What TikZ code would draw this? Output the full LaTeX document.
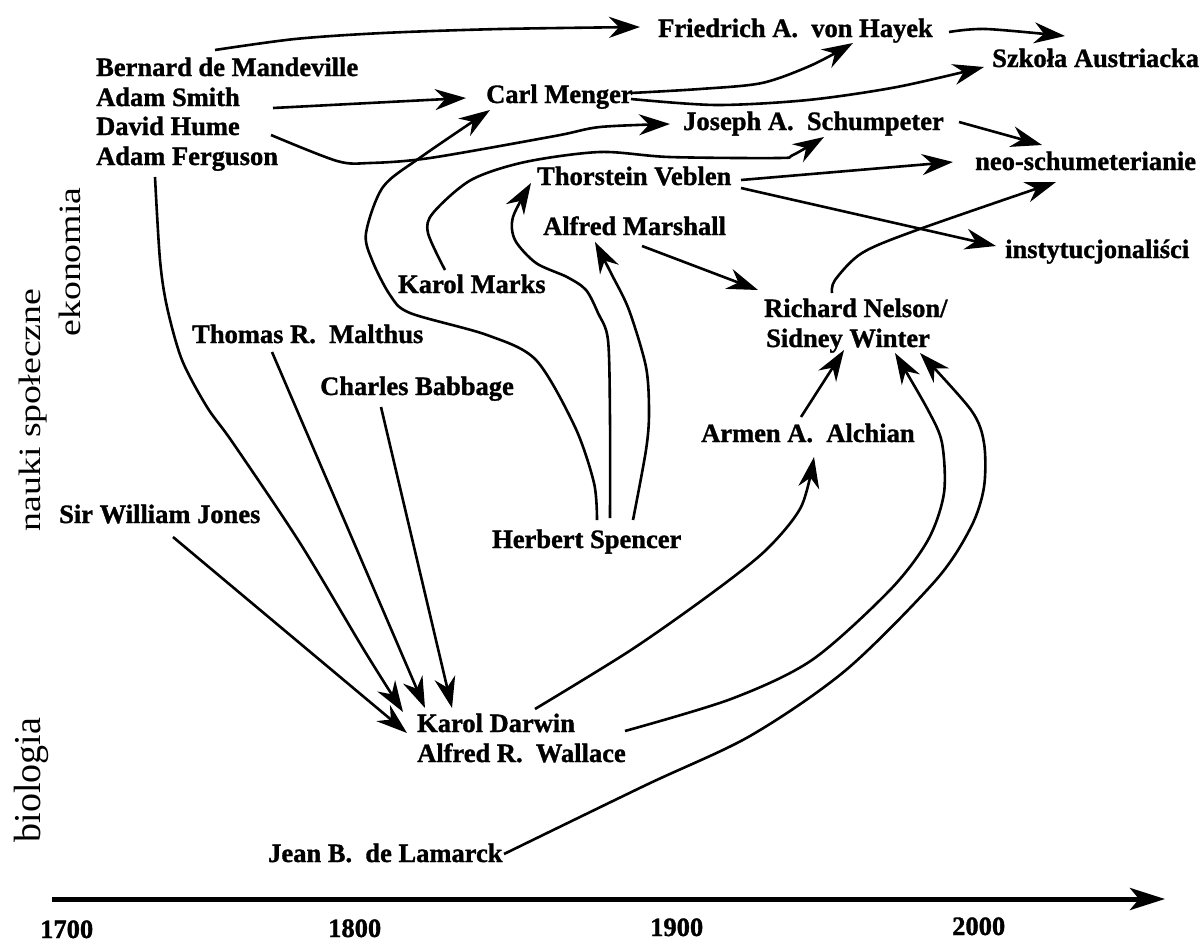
\documentclass[tikz,border=0pt]{standalone}
\usepackage{fontspec}
\setmainfont{Liberation Serif}
\newfontfamily\namefont[FakeBold=1.2]{Liberation Serif Bold}
\usetikzlibrary{arrows.meta}
\tikzset{
  nm/.style={inner sep=0pt, anchor=base west, font=\namefont\fontsize{26.5}{30}\selectfont},
  yr/.style={inner sep=0pt, anchor=base west, font=\namefont\fontsize{26.5}{30}\selectfont},
  side/.style={inner sep=0pt, rotate=90},
  arr/.style={line width=2.6pt, -{Stealth[length=31pt,width=21pt,inset=10pt]}},
  axis/.style={line width=5pt, -{Stealth[length=35pt,width=22pt,inset=9pt]}},
}
\begin{document}
\begin{tikzpicture}[x=1pt,y=-1pt]
\useasboundingbox (0,0) rectangle (1202,945);
% side labels
\node[side] (nauki) at (33,410) {\fontsize{31}{32}\selectfont\scalebox{1.22}[1]{nauki społeczne}};
\node[side] (ekon) at (70,262) {\fontsize{31}{32}\selectfont\scalebox{1.22}[1]{ekonomia}};
\node[side] (bio) at (31,780) {\fontsize{38}{40}\selectfont biologia};
% names
\node[nm] (mand) at (96,76) {Bernard de Mandeville};
\node[nm] (smith) at (96,106) {Adam Smith};
\node[nm] (hume) at (96,135) {David Hume};
\node[nm] (ferg) at (96,165) {Adam Ferguson};
\node[nm] (hayek) at (658,37) {Friedrich A.\ \ von Hayek};
\node[nm] (menger) at (486,103) {Carl Menger};
\node[nm] (szkola) at (992,67) {Szkoła Austriacka};
\node[nm] (schump) at (683,130) {Joseph A.\ \ Schumpeter};
\node[nm] (neo) at (975,170) {neo-schumeterianie};
\node[nm] (veblen) at (537,185) {Thorstein Veblen};
\node[nm] (marshall) at (543,235) {Alfred Marshall};
\node[nm] (inst) at (1005,258) {instytucjonaliści};
\node[nm] (marks) at (398,293) {Karol Marks};
\node[nm] (nelson) at (764,317) {Richard Nelson/};
\node[nm] (winter) at (766,347) {Sidney Winter};
\node[nm] (malthus) at (192,343) {Thomas R.\ \ Malthus};
\node[nm] (babbage) at (320,395) {Charles Babbage};
\node[nm] (alchian) at (701,442) {Armen A.\ \ Alchian};
\node[nm] (jones) at (59,523) {Sir William Jones};
\node[nm] (spencer) at (492,548) {Herbert Spencer};
\node[nm] (darwin) at (417,732) {Karol Darwin};
\node[nm] (wallace) at (417,762) {Alfred R.\ \ Wallace};
\node[nm] (lamarck) at (268,862) {Jean B.\ \ de Lamarck};
% years
\node[yr] (y1700) at (40,938) {1700};
\node[yr] (y1800) at (328,937) {1800};
\node[yr] (y1900) at (650,936) {1900};
\node[yr] (y2000) at (952,935) {2000};
% axis
\coordinate (ax0) at (52,899);
\coordinate (ax1) at (1165,899);
\draw[axis] (ax0) -- (ax1);
% connector end points
\coordinate (mand-o) at (215,50);   \coordinate (hayek-i) at (640,27);
\coordinate (smith-o) at (273,108); \coordinate (menger-i) at (466,98);
\coordinate (hume-o) at (271,135);  \coordinate (schump-i) at (670,124);
\coordinate (menger-o1) at (631,93); \coordinate (hayek-i2) at (853,43);
\coordinate (menger-o2) at (631,99); \coordinate (szkola-i) at (984,67);
\coordinate (hayek-o) at (949,32);  \coordinate (szkola-i2) at (1065,36);
\coordinate (schump-o) at (959,122); \coordinate (neo-i) at (1042,145);
\coordinate (veblen-o1) at (741,180); \coordinate (neo-i2) at (953,162);
\coordinate (veblen-o2) at (741,188); \coordinate (inst-i) at (996,246);
\coordinate (nelson-o) at (832,293); \coordinate (neo-i3) at (1056,182);
\coordinate (marshall-o) at (642,246); \coordinate (nelson-i) at (758,290);
\coordinate (marks-o) at (445,270); \coordinate (schump-i2) at (824,137);
\coordinate (spencer-o1) at (597,520); \coordinate (menger-i2) at (490,110);
\coordinate (spencer-o2) at (610,518); \coordinate (veblen-i) at (531,183);
\coordinate (spencer-o3) at (633,520); \coordinate (marshall-i) at (595,242);
\coordinate (ferg-o) at (155,177);  \coordinate (darwin-i1) at (403,712);
\coordinate (malthus-o) at (272,352); \coordinate (darwin-i2) at (425,708);
\coordinate (babbage-o) at (381,407); \coordinate (darwin-i3) at (452,708);
\coordinate (jones-o) at (173,537); \coordinate (darwin-i4) at (407,733);
\coordinate (darwin-o1) at (535,709); \coordinate (alchian-i) at (814,457);
\coordinate (darwin-o2) at (625,731); \coordinate (winter-i1) at (895,353);
\coordinate (lamarck-o) at (504,854); \coordinate (winter-i2) at (920,353);
\coordinate (alchian-o) at (801,417); \coordinate (winter-i3) at (844,350);
% connectors
\draw[arr] plot[smooth,tension=0.5] coordinates {(mand-o) (295,39) (383,33) (500,29) (hayek-i)};
\draw[arr] (smith-o) -- (menger-i);
\draw[arr] plot[smooth,tension=0.5] coordinates {(hume-o) (337,161) (370,163) (430,158) (555,136) (600,127) (schump-i)};
\draw[arr] plot[smooth,tension=0.5] coordinates {(menger-o1) (700,89) (762,83) (812,65) (hayek-i2)};
\draw[arr] plot[smooth,tension=0.5] coordinates {(menger-o2) (716,105) (808,100) (897,87) (szkola-i)};
\draw[arr] plot[smooth,tension=0.5] coordinates {(hayek-o) (986,29) (szkola-i2)};
\draw[arr] (schump-o) -- (neo-i);
\draw[arr] (veblen-o1) -- (neo-i2);
\draw[arr] (veblen-o2) -- (inst-i);
\draw[arr] plot[smooth,tension=0.5] coordinates {(nelson-o) (835,280) (862,253) (917,230) (neo-i3)};
\draw[arr] (marshall-o) -- (nelson-i);
\draw[arr] plot[smooth,tension=0.5] coordinates {(marks-o) (428,233) (433,213) (471,180) (525,162) (600,152) (669,157) (778,158) (793,155) (schump-i2)};
\draw[arr] plot[smooth,tension=0.5] coordinates {(spencer-o1) (594,483) (575,427) (536,360) (487,335) (410,313) (390,295) (372,260) (366,233) (383,187) (421,157) (menger-i2)};
\draw[arr] plot[smooth,tension=0.5] coordinates {(spencer-o2) (610,420) (608,340) (598,313) (586,290) (567,277) (536,263) (515,240) (513,217) (veblen-i)};
\draw[arr] plot[smooth,tension=0.5] coordinates {(spencer-o3) (646,450) (649,413) (646,367) (629,310) (612,275) (marshall-i)};
\draw[arr] plot[smooth,tension=0.5] coordinates {(ferg-o) (160,260) (167,307) (182,360) (207,407) (233,443) (300,543) (364,650) (darwin-i1)};
\draw[arr] (malthus-o) -- (darwin-i2);
\draw[arr] (babbage-o) -- (darwin-i3);
\draw[arr] (jones-o) -- (darwin-i4);
\draw[arr] plot[smooth,tension=0.5] coordinates {(darwin-o1) (631,650) (712,593) (766,550) (801,507) (alchian-i)};
\draw[arr] plot[smooth,tension=0.5] coordinates {(darwin-o2) (731,699) (812,660) (890,590) (928,540) (944,493) (942,443) (928,410) (winter-i1)};
\draw[arr] plot[smooth,tension=0.5] coordinates {(lamarck-o) (646,785) (750,736) (846,670) (936,580) (971,527) (984,487) (984,443) (971,410) (winter-i2)};
\draw[arr] (alchian-o) -- (winter-i3);
\end{tikzpicture}
\end{document}
